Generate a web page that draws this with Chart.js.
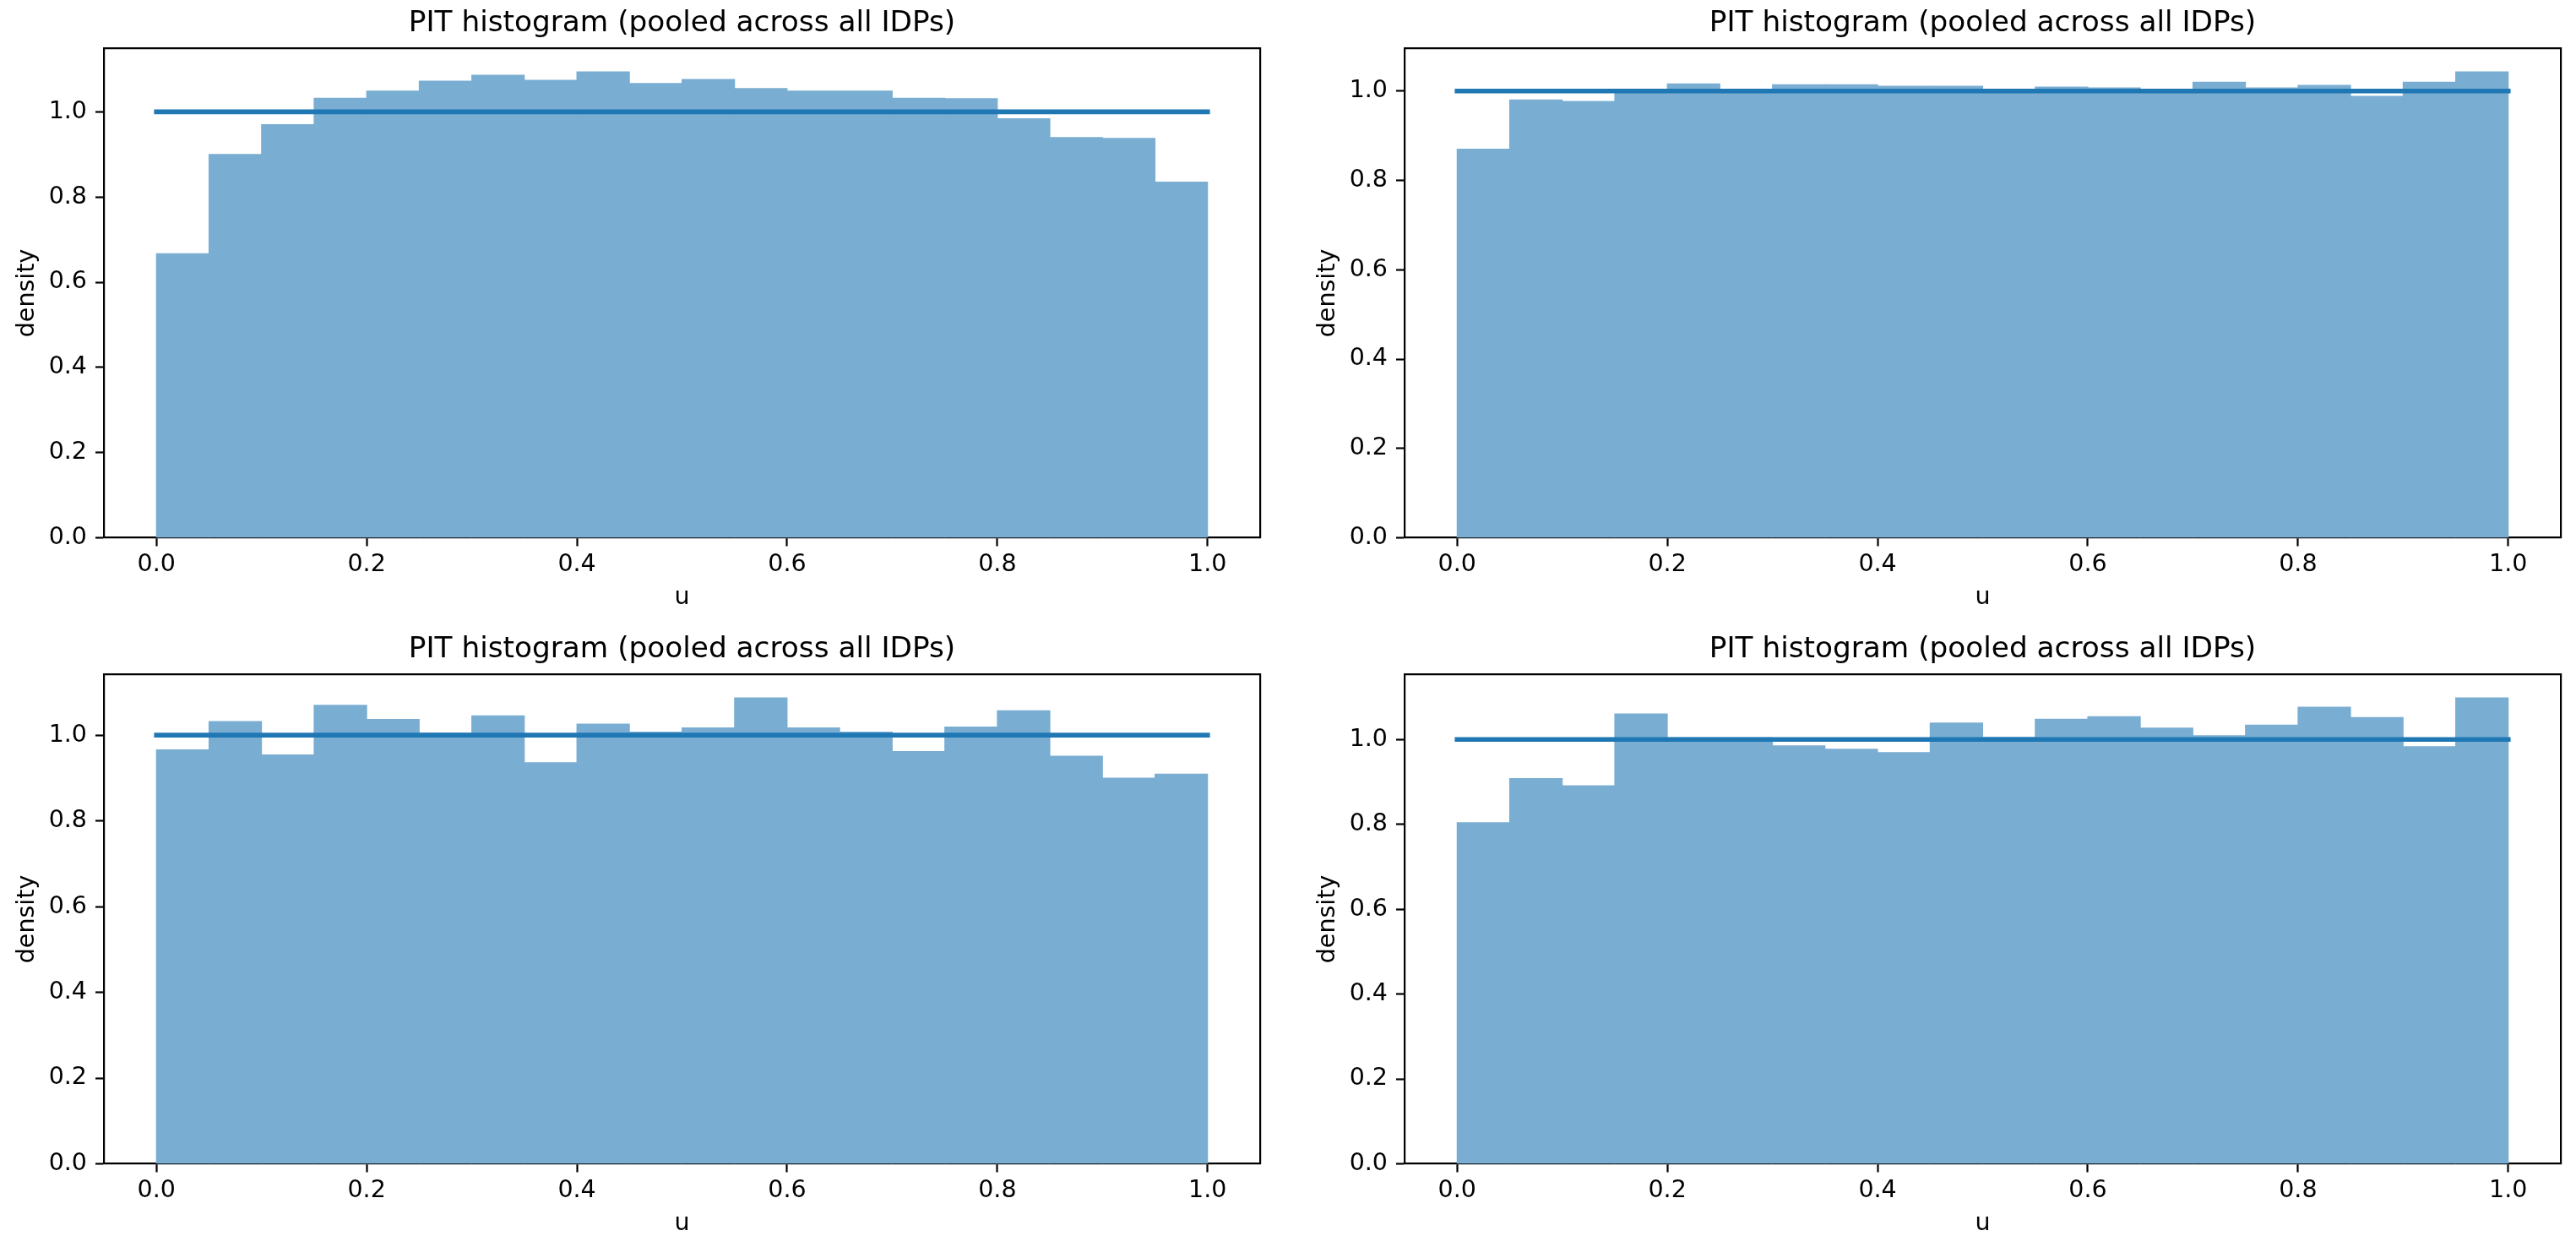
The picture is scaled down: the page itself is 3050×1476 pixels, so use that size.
<!DOCTYPE html>
<html>
<head>
<meta charset="utf-8">
<script src="https://cdn.jsdelivr.net/npm/chart.js@4.4.1/dist/chart.umd.min.js"></script>
<style>
html, body { margin: 0; padding: 0; background: #ffffff; overflow: hidden; width: 3050px; height: 1476px; }
canvas { position: absolute; }
</style>
</head>
<body>
<canvas id="p1"></canvas>
<canvas id="p2"></canvas>
<canvas id="p3"></canvas>
<canvas id="p4"></canvas>
<script>
// ---- data ----
const panelTitle = 'PIT histogram (pooled across all IDPs)';
const xLabel = 'u';
const yLabel = 'density';
const binCenters = [0.025, 0.075, 0.125, 0.175, 0.225, 0.275, 0.325, 0.375, 0.425, 0.475,
                    0.525, 0.575, 0.625, 0.675, 0.725, 0.775, 0.825, 0.875, 0.925, 0.975];
const xTickValues = [0.0, 0.2, 0.4, 0.6, 0.8, 1.0];
const xTickLabels = ['0.0', '0.2', '0.4', '0.6', '0.8', '1.0'];
const yTickValues = [0.0, 0.2, 0.4, 0.6, 0.8, 1.0];
const yTickLabels = ['0.0', '0.2', '0.4', '0.6', '0.8', '1.0'];
const refU = [0.0, 1.0];
const refDensity = [1.0, 1.0];
const density1 = [0.667, 0.900, 0.970, 1.032, 1.049, 1.072, 1.086, 1.074, 1.094, 1.067,
                  1.076, 1.055, 1.049, 1.049, 1.032, 1.031, 0.984, 0.940, 0.938, 0.835];
const density2 = [0.870, 0.980, 0.977, 0.999, 1.016, 1.004, 1.014, 1.014, 1.011, 1.011,
                  1.004, 1.009, 1.007, 1.004, 1.020, 1.007, 1.013, 0.988, 1.020, 1.043];
const density3 = [0.966, 1.032, 0.954, 1.070, 1.037, 1.005, 1.045, 0.936, 1.026, 1.007,
                  1.017, 1.087, 1.017, 1.007, 0.962, 1.019, 1.057, 0.951, 0.900, 0.909];
const density4 = [0.804, 0.908, 0.891, 1.060, 1.004, 1.004, 0.985, 0.977, 0.969, 1.039,
                  1.005, 1.048, 1.054, 1.027, 1.009, 1.034, 1.076, 1.052, 0.983, 1.098];

// ---- drawing ----
const FAMILY = "'DejaVu Sans', 'Liberation Sans', sans-serif";
const tickFont = { family: FAMILY, size: 28.5, weight: 'normal' };
const titleFont = { family: FAMILY, size: 34.3, weight: 'normal' };
const CW = 1615, CH = 740;

function makePanel(id, values, left, top) {
  const cv = document.getElementById(id);
  cv.width = CW; cv.height = CH;
  cv.style.width = CW + 'px'; cv.style.height = CH + 'px';
  cv.style.left = left + 'px'; cv.style.top = top + 'px';
  const ymax = Math.max(...values) * 1.05;
  const axisCommon = {
    grid: { display: true, drawOnChartArea: false, drawTicks: true, tickLength: 10, tickWidth: 2.2, tickColor: '#000000', offset: false },
    border: { display: true, color: '#000000', width: 2.2 }
  };
  new Chart(cv, {
    type: 'bar',
    data: {
      datasets: [
        {
          type: 'line',
          data: refU.map((u, i) => ({ x: u, y: refDensity[i] })),
          borderColor: '#1f77b4',
          borderWidth: 5.6,
          borderCapStyle: 'square',
          pointRadius: 0,
          tension: 0,
          fill: false,
          order: 0,
          xAxisID: 'x', yAxisID: 'y'
        },
        {
          type: 'bar',
          data: binCenters.map((c, i) => ({ x: c, y: values[i] })),
          backgroundColor: '#79add2',
          borderWidth: 0,
          inflateAmount: 0.5,
          barPercentage: 1.0,
          categoryPercentage: 1.0,
          grouped: false,
          order: 1,
          xAxisID: 'x', yAxisID: 'y'
        }
      ]
    },
    options: {
      responsive: false,
      maintainAspectRatio: false,
      animation: false,
      devicePixelRatio: 1,
      layout: { padding: { left: 0, top: 0, right: 0, bottom: 0 } },
      plugins: {
        legend: { display: false },
        tooltip: { enabled: false },
        title: {
          display: true, text: panelTitle, color: '#000000', font: titleFont,
          padding: { top: 7.5, bottom: 8.8 }
        }
      },
      scales: {
        x: Object.assign({}, axisCommon, {
          type: 'linear', position: 'bottom', min: -0.05, max: 1.05, offset: false, z: 1,
          ticks: { color: '#000000', font: tickFont, padding: 4.7, maxRotation: 0, autoSkip: false,
                   callback: (v, i) => xTickLabels[i] },
          afterBuildTicks: s => { s.ticks = xTickValues.map(v => ({ value: v })); },
          afterFit: s => { s.height = 103.5; },
          title: { display: true, text: xLabel, color: '#000000', font: tickFont, padding: { top: 0, bottom: 15.6 } }
        }),
        y: Object.assign({}, axisCommon, {
          type: 'linear', position: 'left', min: 0, max: ymax, z: 1,
          ticks: { color: '#000000', font: tickFont, padding: 10, autoSkip: false,
                   callback: (v, i) => yTickLabels[i] },
          afterBuildTicks: s => { s.ticks = yTickValues.map(v => ({ value: v })); },
          afterFit: s => { s.width = 123; },
          title: { display: true, text: yLabel, color: '#000000', font: tickFont, padding: { top: 15.4, bottom: 0 } }
        }),
        xTop: {
          type: 'linear', position: 'top', min: -0.05, max: 1.05, z: 1,
          grid: { display: false, drawTicks: false },
          ticks: { display: false },
          border: { display: true, color: '#000000', width: 2.2 },
          afterFit: s => { s.height = 0; }
        },
        yRight: {
          type: 'linear', position: 'right', min: 0, max: ymax, z: 1,
          grid: { display: false, drawTicks: false },
          ticks: { display: false },
          border: { display: true, color: '#000000', width: 2.2 },
          afterFit: s => { s.width = 123; }
        }
      }
    }
  });
}

makePanel('p1', density1, 0, 0);
makePanel('p2', density2, 1540, 0);
makePanel('p3', density3, 0, 741);
makePanel('p4', density4, 1540, 741);
</script>
</body>
</html>
